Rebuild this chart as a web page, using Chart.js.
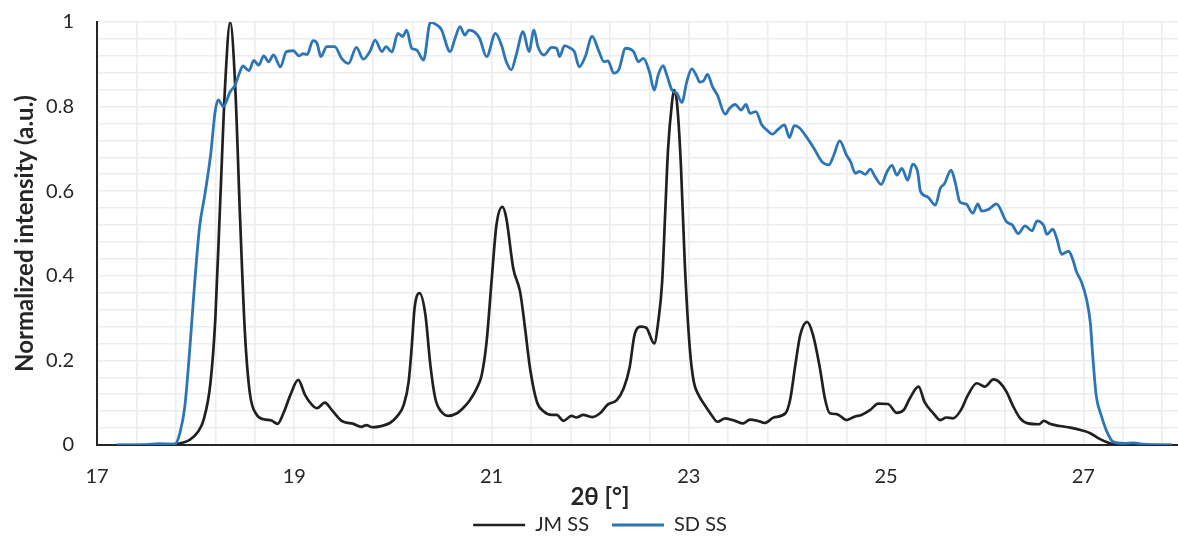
<!DOCTYPE html>
<html>
<head>
<meta charset="utf-8">
<script src="https://cdn.jsdelivr.net/npm/chart.js@4.4.0/dist/chart.umd.min.js"></script>
<style>
  html, body { margin: 0; padding: 0; background: #ffffff; }
  #wrap { width: 1178px; height: 536px; }
</style>
</head>
<body>
<div id="wrap"><canvas id="c" width="1178" height="536"></canvas></div>
<script>
// ---- data ----
const seriesNames = ['JM SS', 'SD SS'];

const jmX = [17.20, 17.50, 17.79, 17.94, 18.02, 18.08, 18.15, 18.20, 18.25, 18.30, 18.35, 18.40, 18.45, 18.50, 18.55, 18.62, 18.69, 18.77, 18.83, 18.89, 18.96,
  19.04, 19.11, 19.18, 19.23, 19.31, 19.38, 19.48, 19.60, 19.68, 19.73, 19.79, 19.87, 19.97,
  20.04, 20.11, 20.16, 20.19, 20.22, 20.27, 20.33, 20.38, 20.43, 20.49, 20.56, 20.65, 20.71, 20.78, 20.85, 20.90, 20.95,
  21.00, 21.05, 21.11, 21.15, 21.22, 21.29, 21.34, 21.39, 21.46, 21.53, 21.61, 21.66, 21.73, 21.81, 21.86, 21.93,
  22.02, 22.10, 22.18, 22.27, 22.34, 22.40, 22.45, 22.52, 22.57, 22.65, 22.69, 22.73, 22.76, 22.79, 22.83, 22.85, 22.88, 22.92, 22.96,
  23.01, 23.05, 23.10, 23.16, 23.23, 23.29, 23.37, 23.47, 23.55, 23.62, 23.70, 23.77, 23.86, 23.98,
  24.03, 24.08, 24.13, 24.20, 24.26, 24.33, 24.38, 24.43, 24.50, 24.60, 24.68, 24.75, 24.84, 24.92,
  25.02, 25.11, 25.18, 25.24, 25.33, 25.39, 25.48, 25.55, 25.61, 25.68, 25.76, 25.83, 25.92,
  26.00, 26.09, 26.16, 26.22, 26.29, 26.36, 26.44, 26.55, 26.60, 26.66, 26.76, 26.87, 26.98,
  27.07, 27.17, 27.27, 27.34, 27.60, 27.90];
const jmY = [0, 0, 0.002, 0.012, 0.03, 0.059, 0.146, 0.30, 0.58, 0.855, 1.0, 0.855, 0.54, 0.264, 0.122, 0.071, 0.061, 0.058, 0.050, 0.075, 0.118,
  0.154, 0.118, 0.095, 0.087, 0.100, 0.083, 0.057, 0.050, 0.043, 0.047, 0.042, 0.044, 0.052,
  0.067, 0.095, 0.150, 0.229, 0.324, 0.359, 0.307, 0.189, 0.110, 0.079, 0.069, 0.075, 0.087, 0.106, 0.134, 0.165, 0.244,
  0.386, 0.520, 0.563, 0.536, 0.418, 0.362, 0.276, 0.182, 0.102, 0.079, 0.071, 0.071, 0.057, 0.069, 0.065, 0.071,
  0.066, 0.075, 0.096, 0.106, 0.134, 0.183, 0.260, 0.280, 0.277, 0.240, 0.291, 0.386, 0.544, 0.700, 0.810, 0.839, 0.810, 0.662, 0.426,
  0.229, 0.150, 0.118, 0.095, 0.071, 0.055, 0.063, 0.057, 0.051, 0.060, 0.057, 0.052, 0.065, 0.075,
  0.110, 0.189, 0.260, 0.291, 0.260, 0.181, 0.110, 0.075, 0.073, 0.059, 0.067, 0.071, 0.083, 0.098,
  0.097, 0.076, 0.083, 0.110, 0.138, 0.102, 0.075, 0.059, 0.065, 0.063, 0.083, 0.118, 0.146,
  0.138, 0.155, 0.146, 0.126, 0.091, 0.063, 0.051, 0.049, 0.057, 0.050, 0.045, 0.041, 0.035,
  0.028, 0.014, 0.004, 0, 0, 0];

const sdX = [17.20, 17.50, 17.63, 17.79, 17.84, 17.89, 17.94, 17.99, 18.04, 18.09, 18.15, 18.20, 18.23, 18.28, 18.35, 18.40, 18.45, 18.48, 18.54, 18.59, 18.64, 18.69, 18.74, 18.79, 18.86, 18.92, 18.99,
  19.05, 19.09, 19.13, 19.19, 19.23, 19.27, 19.33, 19.41, 19.48, 19.55, 19.63, 19.70, 19.77, 19.82, 19.89, 19.93, 19.99,
  20.05, 20.10, 20.14, 20.19, 20.24, 20.31, 20.38, 20.43, 20.49, 20.58, 20.63, 20.68, 20.73, 20.77, 20.83, 20.88, 20.95,
  21.04, 21.10, 21.15, 21.20, 21.25, 21.32, 21.38, 21.43, 21.47, 21.53, 21.61, 21.66, 21.69, 21.74, 21.80, 21.84, 21.89, 21.95,
  22.02, 22.09, 22.14, 22.18, 22.24, 22.29, 22.36, 22.44, 22.49, 22.54, 22.60, 22.65, 22.69, 22.74, 22.78, 22.83, 22.88, 22.93, 22.98,
  23.03, 23.08, 23.11, 23.15, 23.19, 23.24, 23.29, 23.37, 23.41, 23.47, 23.53, 23.58, 23.62, 23.68, 23.74, 23.79, 23.85, 23.90, 23.97,
  24.02, 24.07, 24.12, 24.20, 24.27, 24.35, 24.42, 24.47, 24.53, 24.60, 24.64, 24.69, 24.73, 24.79, 24.84, 24.89, 24.95,
  25.01, 25.06, 25.11, 25.16, 25.22, 25.27, 25.32, 25.35, 25.42, 25.50, 25.55, 25.59, 25.66, 25.70, 25.75, 25.81, 25.88, 25.93, 25.97,
  26.04, 26.12, 26.22, 26.28, 26.34, 26.41, 26.48, 26.53, 26.60, 26.63, 26.69, 26.73, 26.78, 26.85, 26.89, 26.93, 26.98,
  27.03, 27.07, 27.10, 27.13, 27.18, 27.24, 27.30, 27.41, 27.51, 27.61, 27.90];
const sdY = [0, 0.001, 0.003, 0.002, 0.028, 0.090, 0.225, 0.382, 0.516, 0.587, 0.682, 0.792, 0.816, 0.800, 0.835, 0.851, 0.883, 0.896, 0.885, 0.909, 0.898, 0.920, 0.906, 0.922, 0.894, 0.930, 0.932,
  0.920, 0.925, 0.923, 0.956, 0.950, 0.918, 0.942, 0.942, 0.914, 0.902, 0.940, 0.912, 0.932, 0.957, 0.930, 0.942, 0.929,
  0.973, 0.966, 0.981, 0.938, 0.934, 0.910, 0.999, 0.995, 0.983, 0.930, 0.961, 0.989, 0.969, 0.981, 0.976, 0.961, 0.918,
  0.973, 0.946, 0.906, 0.887, 0.922, 0.977, 0.930, 0.981, 0.942, 0.922, 0.940, 0.938, 0.918, 0.944, 0.938, 0.930, 0.894, 0.918,
  0.966, 0.930, 0.906, 0.908, 0.879, 0.887, 0.938, 0.930, 0.906, 0.914, 0.883, 0.839, 0.875, 0.897, 0.872, 0.839, 0.831, 0.810, 0.859,
  0.889, 0.872, 0.858, 0.861, 0.876, 0.847, 0.827, 0.782, 0.795, 0.805, 0.792, 0.805, 0.784, 0.788, 0.757, 0.745, 0.735, 0.745, 0.757,
  0.727, 0.755, 0.750, 0.726, 0.701, 0.670, 0.662, 0.685, 0.719, 0.685, 0.670, 0.642, 0.647, 0.640, 0.652, 0.634, 0.616,
  0.646, 0.661, 0.638, 0.654, 0.626, 0.664, 0.646, 0.599, 0.587, 0.567, 0.607, 0.617, 0.650, 0.622, 0.574, 0.570, 0.548, 0.570, 0.553,
  0.557, 0.570, 0.528, 0.520, 0.500, 0.518, 0.506, 0.530, 0.518, 0.498, 0.510, 0.489, 0.451, 0.458, 0.441, 0.410, 0.386,
  0.347, 0.291, 0.197, 0.118, 0.071, 0.031, 0.008, 0.004, 0.005, 0.002, 0];

const xTickLabels = [17, 19, 21, 23, 25, 27];
const yTickLabels = [0, 0.2, 0.4, 0.6, 0.8, 1];
const xTitle = '2θ [°]';
const yTitle = 'Normalized intensity (a.u.)';

// ---- chart ----
const FONT = 'Lato, "Liberation Sans", sans-serif';
const TXT = '#262626';
const GRID = '#ebedef';
const NONE = 'rgba(0,0,0,0)';

function pts(xs, ys) { return xs.map((x, i) => ({ x: x, y: ys[i] })); }

new Chart(document.getElementById('c'), {
  type: 'line',
  data: {
    datasets: [
      { label: seriesNames[0], data: pts(jmX, jmY), borderColor: '#231f20', backgroundColor: '#231f20',
        borderWidth: 2.7, pointRadius: 0, cubicInterpolationMode: 'monotone', order: 2 },
      { label: seriesNames[1], data: pts(sdX, sdY), borderColor: '#2e75b6', backgroundColor: '#2e75b6',
        borderWidth: 2.8, pointRadius: 0, cubicInterpolationMode: 'monotone', order: 1 }
    ]
  },
  options: {
    responsive: false,
    animation: false,
    devicePixelRatio: 1,
    layout: { padding: { left: 22, top: 22, right: 0, bottom: -9 } },
    plugins: {
      tooltip: { enabled: false },
      title: {
        display: true, text: xTitle, position: 'bottom', weight: 500,
        color: TXT, font: { family: FONT, size: 24, weight: 'bold', lineHeight: 1 },
        padding: { top: -5, bottom: -17 }
      },
      legend: {
        position: 'bottom',
        labels: {
          sort: (a, b) => a.datasetIndex - b.datasetIndex,
          usePointStyle: true, pointStyle: 'line', pointStyleWidth: 52,
          padding: 23, color: TXT, font: { family: FONT, size: 20 }
        }
      }
    },
    scales: {
      x: {
        type: 'linear', min: 17, max: 27.96,
        afterBuildTicks: (s) => {
          const t = [];
          for (let i = 0; i <= 27; i++) t.push({ value: Math.round((17 + i * 0.4) * 100) / 100 });
          s.ticks = t;
        },
        afterFit: (s) => { s.height = 45; },
        grid: { color: GRID, lineWidth: 1.6, drawTicks: true, tickLength: 20, tickColor: NONE },
        border: { display: true, color: '#262626', width: 2 },
        ticks: {
          autoSkip: false, maxRotation: 0, padding: 0, color: TXT, font: { family: FONT, size: 20 },
          callback: (v) => { const r = Math.round(v * 100) / 100; return xTickLabels.includes(r) ? String(r) : ''; }
        },
        title: { display: false }
      },
      y: {
        type: 'linear', min: 0, max: 1,
        afterBuildTicks: (s) => {
          const t = [];
          for (let i = 0; i <= 25; i++) t.push({ value: Math.round(i * 4) / 100 });
          s.ticks = t;
        },
        afterFit: (s) => { s.width = 75; },
        grid: { color: GRID, lineWidth: 1.6, drawTicks: true, tickLength: 23, tickColor: NONE },
        border: { display: true, color: '#262626', width: 2 },
        ticks: {
          autoSkip: false, padding: 0, color: TXT, font: { family: FONT, size: 20 },
          callback: (v) => { const r = Math.round(v * 100) / 100; return yTickLabels.includes(r) ? String(r) : ''; }
        },
        title: {
          display: true, text: yTitle, color: TXT,
          font: { family: FONT, size: 24, weight: 'bold', lineHeight: 1 },
          padding: { top: -9, bottom: 0 }
        }
      }
    }
  }
});
</script>
</body>
</html>
